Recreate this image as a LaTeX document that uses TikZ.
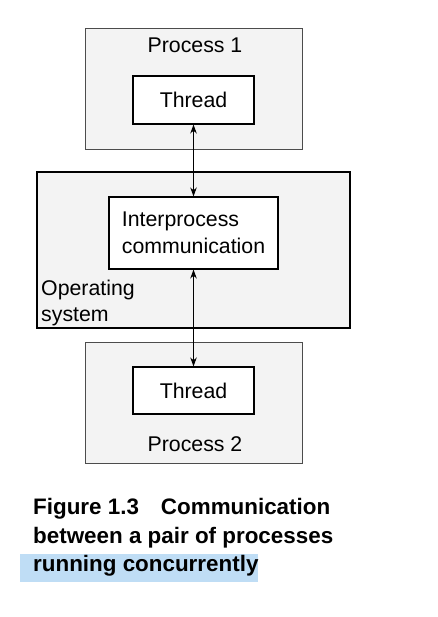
\documentclass[tikz,border=0pt]{standalone}
\usepackage{fontspec}
\setmainfont{Liberation Sans}
\usetikzlibrary{arrows.meta}
\definecolor{boxgray}{HTML}{F3F3F3}
\definecolor{hl}{HTML}{BFDDF5}
\tikzset{
  procbox/.style={draw=black!70, line width=0.9pt, fill=boxgray, minimum width=217pt, inner sep=0pt},
  osbox/.style={draw=black, line width=2.6pt, fill=boxgray, inner sep=0pt},
  innerbox/.style={draw=black, line width=1.1pt, fill=white, inner sep=0pt},
  lbl/.style={font=\fontsize{21.3}{26.5}\selectfont, inner sep=0pt},
  conn/.style={line width=1pt, {Stealth[length=9pt,width=6.5pt]}-{Stealth[length=9pt,width=6.5pt]}},
  captxt/.style={font=\fontsize{22.4}{28.7}\selectfont\bfseries, inner sep=0pt, align=left}
}
\begin{document}
\begin{tikzpicture}[x=1pt,y=-1pt]
\useasboundingbox (0,0) rectangle (438,617);
% Process 1
\node[procbox, minimum height=121pt] (p1) at (193.5,88.5) {};
\node[lbl, anchor=base] (p1lbl) at (195,53) {Process 1};
\node[innerbox, lbl, minimum width=121pt, minimum height=48pt] (t1) at (193.5,100) {Thread};
% Operating system
\node[osbox, minimum width=313pt, minimum height=156pt] (os) at (193.5,250) {};
\node[innerbox, lbl, align=left, minimum width=169pt, minimum height=72pt] (ipc) at (193.5,233) {Interprocess\\communication};
\node[lbl, align=left, anchor=north west] (oslbl) at (41,279.5) {Operating\\system};
% Process 2
\node[procbox, minimum height=121pt] (p2) at (193.5,402.5) {};
\node[innerbox, lbl, minimum width=121pt, minimum height=47pt] (t2) at (193.5,390.5) {Thread};
\node[lbl, anchor=base] (p2lbl) at (195,451) {Process 2};
% connectors
\draw[conn] (t1.south) -- (ipc.north);
\draw[conn] (ipc.south) -- (t2.north);
% caption
\fill[hl] (20,554) rectangle (258,582);
\node[captxt, anchor=north west] (cap) at (33,498) {Figure 1.3\hspace{22pt}Communication\\between a pair of processes\\running concurrently};
\end{tikzpicture}
\end{document}
